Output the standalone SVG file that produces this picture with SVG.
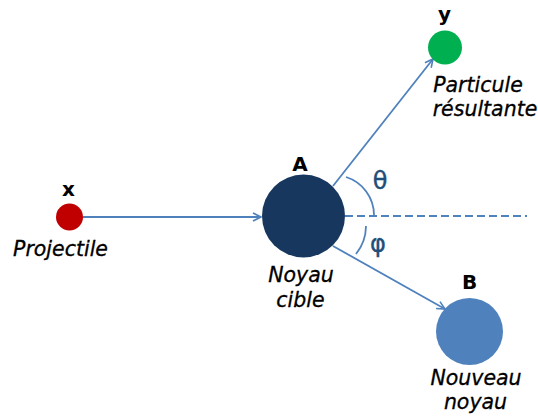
<svg xmlns="http://www.w3.org/2000/svg" width="538" height="419" viewBox="0 0 538 419">
<style>
.lbl{font-family:"DejaVu Sans",sans-serif;font-weight:bold;font-size:20px;fill:#000;text-anchor:middle}
.it{font-family:"DejaVu Sans",sans-serif;font-style:italic;font-size:20.5px;fill:#000;text-anchor:middle;stroke:#000;stroke-width:0.3}
.ang{font-family:"DejaVu Sans",sans-serif;font-size:24px;fill:#1F4E79;text-anchor:middle;stroke:#1F4E79;stroke-width:0.4}
.ln{stroke:#4F81BD;stroke-width:1.8;fill:none}
</style>
<defs>
<marker id="arr" markerUnits="userSpaceOnUse" markerWidth="12" markerHeight="12" refX="9" refY="5" orient="auto">
<path d="M1,1 L9,5 L1,9" fill="none" stroke="#4F81BD" stroke-width="1.6"/>
</marker>
</defs>
<g id="connectors">
<line class="ln" x1="83" y1="217" x2="261" y2="217" marker-end="url(#arr)"/>
<line class="ln" x1="345" y1="216" x2="527" y2="216" stroke-dasharray="8,4"/>
<line class="ln" x1="333" y1="186" x2="433" y2="59" marker-end="url(#arr)"/>
<line class="ln" x1="333" y1="246" x2="445" y2="309" marker-end="url(#arr)"/>
<path class="ln" d="M346 177 A40 40 0 0 1 374 215"/>
<path class="ln" d="M366 226 A45 45 0 0 1 356 254"/>
<text class="ang" x="380" y="189">θ</text>
<text class="ang" x="378" y="252">φ</text>
</g>
<g id="projectile">
<circle cx="69.5" cy="217" r="13.5" fill="#C00000"/>
<text class="lbl" x="68.5" y="196">x</text>
<text class="it" x="60.5" y="256">Projectile</text>
</g>
<g id="noyau-cible">
<circle cx="303.5" cy="216" r="41.5" fill="#17375E"/>
<text class="lbl" x="300" y="171">A</text>
<text class="it" x="301" y="282">Noyau</text>
<text class="it" x="300.5" y="307">cible</text>
</g>
<g id="particule">
<circle cx="445" cy="47.5" r="17" fill="#00B050"/>
<text class="lbl" x="444.5" y="21">y</text>
<text class="it" x="478" y="92">Particule</text>
<text class="it" x="485" y="116">résultante</text>
</g>
<g id="nouveau-noyau">
<circle cx="469.5" cy="331.5" r="33.5" fill="#4F81BD"/>
<text class="lbl" x="469.5" y="289">B</text>
<text class="it" x="476" y="385">Nouveau</text>
<text class="it" x="475.5" y="409">noyau</text>
</g>
</svg>
